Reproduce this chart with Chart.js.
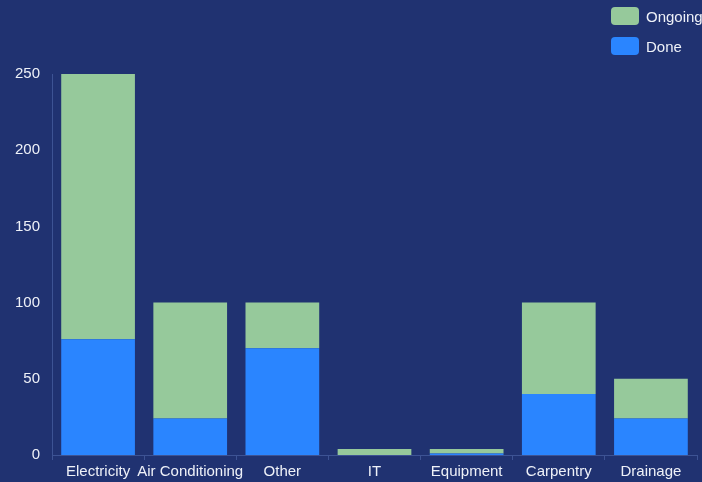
<!DOCTYPE html>
<html>
<head>
<meta charset="utf-8">
<script src="https://cdn.jsdelivr.net/npm/chart.js@4/dist/chart.umd.min.js"></script>
<style>
  html, body { margin: 0; padding: 0; background: #203271; }
  #wrap { position: relative; width: 702px; height: 482px; }
  #legend { position: absolute; top: 7px; left: 611px; font: 15px "Liberation Sans", Arial, sans-serif; color: #eef1f8; }
  #legend div { display: flex; align-items: center; height: 18px; margin-bottom: 12px; }
  #legend span.box { width: 28px; height: 18px; border-radius: 4px; margin-right: 7px; }
</style>
</head>
<body>
<div id="wrap">
  <canvas id="myChart" width="702" height="482"></canvas>
  <div id="legend"></div>
</div>
<script>
// data
const categories = ['Electricity', 'Air Conditioning', 'Other', 'IT', 'Equipment', 'Carpentry', 'Drainage'];
const doneValues = [76, 24, 70, 0, 1, 40, 24];
const ongoingValues = [174, 76, 30, 4, 3, 60, 26];
const yTicks = [0, 50, 100, 150, 200, 250];

const blue = '#2a85ff';
const green = '#96c99b';
const axisColor = '#3d5394';
const textColor = '#eef1f8';
const fontFamily = '"Liberation Sans", Arial, sans-serif';

const ctx = document.getElementById('myChart').getContext('2d');
new Chart(ctx, {
  type: 'bar',
  data: {
    labels: categories,
    datasets: [
      { label: 'Done', data: doneValues, backgroundColor: blue, borderWidth: 0 },
      { label: 'Ongoing', data: ongoingValues, backgroundColor: green, borderWidth: 0 }
    ]
  },
  options: {
    responsive: false,
    animation: false,
    layout: { padding: { top: 74, right: 5, left: 0, bottom: 0 } },
    datasets: { bar: { barPercentage: 0.8, categoryPercentage: 1 } },
    plugins: {
      legend: { display: false },
      tooltip: { enabled: false }
    },
    scales: {
      x: {
        stacked: true,
        grid: { display: true, drawOnChartArea: false, drawTicks: true, tickLength: 5, color: axisColor, offset: true },
        border: { display: true, color: axisColor },
        ticks: { color: textColor, font: { size: 15, family: fontFamily }, padding: 3, maxRotation: 0, autoSkip: false },
        afterFit: function(scale) { scale.height = 27; }
      },
      y: {
        stacked: true,
        min: yTicks[0],
        max: yTicks[yTicks.length - 1],
        grid: { display: false, drawTicks: false },
        border: { display: true, color: axisColor },
        ticks: { stepSize: 50, color: textColor, font: { size: 15, family: fontFamily }, padding: 12 },
        afterFit: function(scale) { scale.width = 52; }
      }
    }
  }
});

// vertical legend, Ongoing first
const legend = document.getElementById('legend');
[['Ongoing', green], ['Done', blue]].forEach(([name, color]) => {
  const row = document.createElement('div');
  row.innerHTML = '<span class="box" style="background:' + color + '"></span>' + name;
  legend.appendChild(row);
});
</script>
</body>
</html>
